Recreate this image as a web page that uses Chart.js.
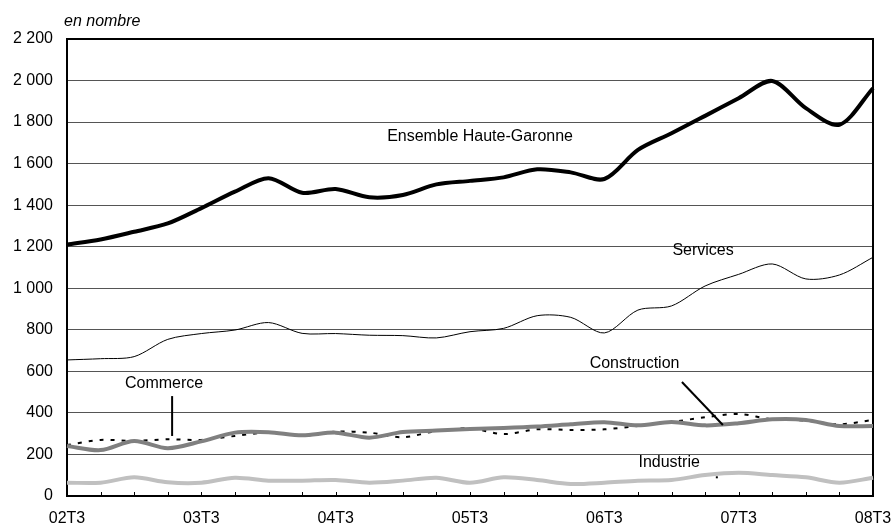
<!DOCTYPE html>
<html>
<head>
<meta charset="utf-8">
<script src="https://cdn.jsdelivr.net/npm/chart.js@4.4.1/dist/chart.umd.min.js"></script>
<style>
    body { margin: 0; background: #fff; }
</style>
</head>
<body>
<canvas id="chart" width="891" height="526"></canvas>
<script>
// quarterly series, 02T3 -> 08T3
const quarters = ['02T3','02T4','03T1','03T2','03T3','03T4','04T1','04T2','04T3','04T4','05T1','05T2',
                  '05T3','05T4','06T1','06T2','06T3','06T4','07T1','07T2','07T3','07T4','08T1','08T2','08T3'];
const ensemble     = [1210,1235,1272,1312,1386,1465,1530,1460,1478,1438,1449,1500,1517,1534,1573,1558,1526,1666,1746,1830,1915,1998,1867,1787,1963];
const services     = [655,661,671,754,782,799,835,783,782,774,772,761,791,807,868,860,785,895,915,1011,1067,1117,1045,1064,1149];
const construction = [241,221,265,230,263,305,307,292,305,281,308,315,322,327,334,345,355,340,356,340,350,369,366,337,337];
const commerce     = [245,270,265,273,270,289,305,289,310,305,283,313,326,298,321,318,321,337,356,379,395,369,363,345,366];
const industrie    = [64,64,90,66,64,88,74,74,77,64,74,88,64,90,77,58,64,74,77,101,112,101,90,64,88];

const FONT = '"Liberation Sans", Arial, sans-serif';

// labels placed in data units (quarter index, value)
const notes = [
    { text: 'Ensemble Haute-Garonne', x: 12.3, y: 1728 },
    { text: 'Services', x: 18.94, y: 1180 },
    { text: 'Commerce', x: 2.89, y: 539 },
    { text: 'Construction', x: 16.9, y: 636 },
    { text: 'Industrie', x: 17.93, y: 159 }
];
const leaders = [
    { x1: 3.13, y1: 481, x2: 3.13, y2: 289 },
    { x1: 18.31, y1: 549, x2: 19.53, y2: 342 }
];

const frame = {
    id: 'frame',
    beforeDatasetsDraw(chart) {
        const { ctx, chartArea: a, scales } = chart;
        ctx.save();
        ctx.strokeStyle = '#000';
        ctx.lineWidth = 2;
        ctx.strokeRect(a.left, a.top, a.right - a.left, a.bottom - a.top);
        // small inner ticks on x axis
        ctx.lineWidth = 1;
        quarters.forEach((q, i) => {
            const x = Math.round(scales.x.getPixelForValue(i)) + 0.5;
            ctx.beginPath();
            ctx.moveTo(x, a.bottom);
            ctx.lineTo(x, a.bottom - 4);
            ctx.stroke();
        });
        ctx.restore();
    },
    afterDatasetsDraw(chart) {
        const { ctx, chartArea: a, scales } = chart;
        ctx.save();
        ctx.fillStyle = '#000';
        ctx.font = '16px ' + FONT;
        ctx.textAlign = 'center';
        ctx.textBaseline = 'middle';
        notes.forEach(n => {
            ctx.fillText(n.text, scales.x.getPixelForValue(n.x), scales.y.getPixelForValue(n.y));
        });
        ctx.strokeStyle = '#000';
        ctx.lineWidth = 2;
        leaders.forEach(l => {
            ctx.beginPath();
            ctx.moveTo(scales.x.getPixelForValue(l.x1), scales.y.getPixelForValue(l.y1));
            ctx.lineTo(scales.x.getPixelForValue(l.x2), scales.y.getPixelForValue(l.y2));
            ctx.stroke();
        });
        ctx.fillRect(scales.x.getPixelForValue(19.35) - 1, scales.y.getPixelForValue(90) - 1, 2, 2);
        ctx.font = 'italic 16px ' + FONT;
        ctx.textAlign = 'left';
        ctx.fillText('en nombre', a.left - 3, a.top - 17);
        ctx.restore();
    }
};

new Chart(document.getElementById('chart'), {
    type: 'line',
    data: {
        labels: quarters,
        datasets: [
            { label: 'Ensemble Haute-Garonne', data: ensemble, borderColor: '#000', borderWidth: 4 },
            { label: 'Services', data: services, borderColor: '#000', borderWidth: 1 },
            { label: 'Construction', data: construction, borderColor: '#808080', borderWidth: 4 },
            { label: 'Commerce', data: commerce, borderColor: '#000', borderWidth: 2, borderDash: [4, 7] },
            { label: 'Industrie', data: industrie, borderColor: '#c0c0c0', borderWidth: 4 }
        ]
    },
    options: {
        responsive: false,
        animation: false,
        layout: { padding: { top: 39, right: 0, left: 0, bottom: 0 } },
        elements: {
            point: { radius: 0 },
            line: { tension: 0.3, fill: false }
        },
        plugins: {
            legend: { display: false },
            tooltip: { enabled: false }
        },
        scales: {
            x: {
                grid: { display: false },
                border: { display: false },
                afterFit(scale) {
                    scale.height = 30;
                    scale.paddingRight = 18;
                    scale.paddingLeft = 0;
                },
                ticks: {
                    autoSkip: false,
                    maxRotation: 0,
                    padding: 5,
                    color: '#000',
                    font: { family: FONT, size: 16 },
                    callback: (v, i) => (i % 4 === 0 ? quarters[i] : '')
                }
            },
            y: {
                min: 0,
                max: 2200,
                afterFit(scale) { scale.width = 67; },
                border: { display: false },
                grid: { color: '#555', lineWidth: 1, drawTicks: false },
                ticks: {
                    stepSize: 200,
                    padding: 14,
                    color: '#000',
                    font: { family: FONT, size: 16 },
                    callback: v => v.toString().replace(/\B(?=(\d{3})+(?!\d))/g, ' ')
                }
            }
        }
    },
    plugins: [frame]
});
</script>
</body>
</html>
